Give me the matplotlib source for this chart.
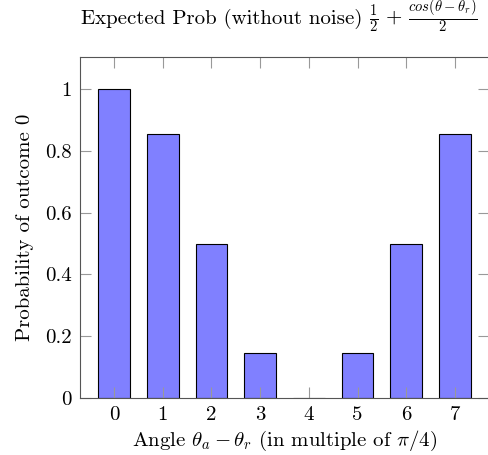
import matplotlib
matplotlib.use("Agg")
import matplotlib.pyplot as plt

angles = [0, 1, 2, 3, 4, 5, 6, 7]
probs = [1.0, 0.854, 0.5, 0.146, 0.0, 0.146, 0.5, 0.854]
yticks = [0, 0.2, 0.4, 0.6, 0.8, 1]
ytick_labels = ["0", "0.2", "0.4", "0.6", "0.8", "1"]
title_text = 'Expected Prob (without noise)'
title_math = r'$\frac{1}{2}\,+\,\frac{cos(\theta - \theta_r)}{2}$'

plt.rcParams['font.family'] = ['serif']
plt.rcParams['font.serif'] = ['cmr10']
plt.rcParams['mathtext.fontset'] = 'cm'
plt.rcParams['axes.unicode_minus'] = False
plt.rcParams['font.size'] = 15

fig = plt.figure(figsize=(4.88, 4.55), dpi=100)
ax = fig.add_axes([80/488, 1-398/455, 409/488, 341/455])

ax.bar(angles, probs, width=0.65, color='#8080ff', edgecolor='black', linewidth=0.8)
ax.set_xlim(-0.7, 7.7)
ax.set_ylim(0, 1.104)
ax.set_xticks(angles)
ax.set_xticklabels([str(a) for a in angles])
ax.set_yticks(yticks)
ax.set_yticklabels(ytick_labels)
ax.tick_params(direction='in', length=8, width=0.8, color='#999999',
               top=True, right=True, pad=6, labelsize=15)
for s in ax.spines.values():
    s.set_color('#555555')
    s.set_linewidth(0.8)

ax.set_xlabel(r'Angle $\theta_a - \theta_r$ (in multiple of $\pi/4$)', labelpad=3)
ax.set_ylabel('Probability of outcome 0', labelpad=8)

fig.text(362/488, 1-24/455, title_text, ha='right', va='baseline', fontsize=15)
fig.text(369/488, 1-24/455, title_math, ha='left', va='baseline', fontsize=15)

fig.savefig('out.png', dpi=100)
